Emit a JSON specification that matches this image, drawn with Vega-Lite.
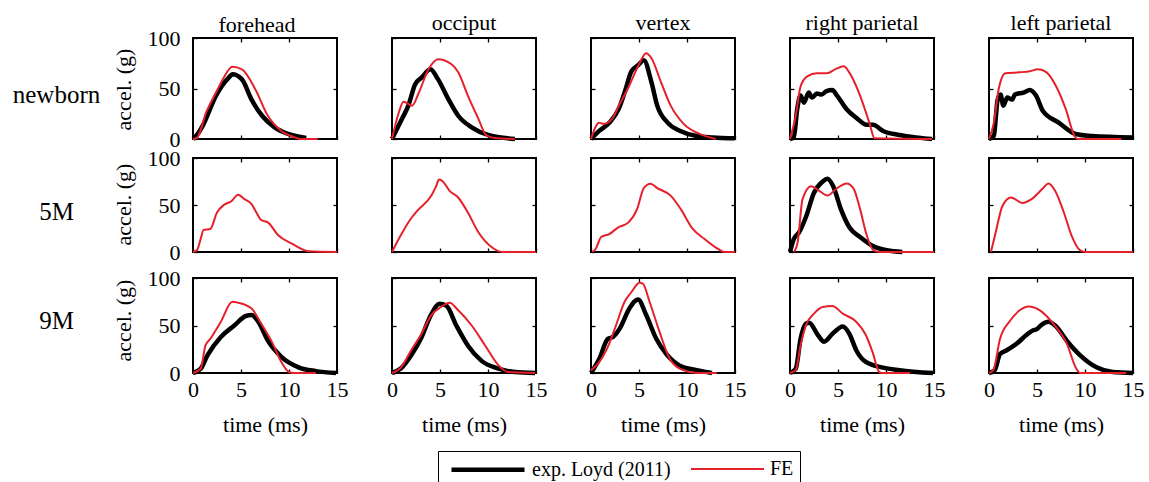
{
"$schema":"https://vega.github.io/schema/vega-lite/v6.json",
"background":"white",
"padding":{"left":11,"top":11,"right":0,"bottom":0},
"data":{"values":[
{"g":"nb","l":"fh","s":"exp. Loyd (2011)","t":0,"a":0},{"g":"nb","l":"fh","s":"exp. Loyd (2011)","t":0.5,"a":5},{"g":"nb","l":"fh","s":"exp. Loyd (2011)","t":1,"a":13},{"g":"nb","l":"fh","s":"exp. Loyd (2011)","t":2.4,"a":43},{"g":"nb","l":"fh","s":"exp. Loyd (2011)","t":3.75,"a":61},{"g":"nb","l":"fh","s":"exp. Loyd (2011)","t":4.1,"a":64},{"g":"nb","l":"fh","s":"exp. Loyd (2011)","t":5.1,"a":59},{"g":"nb","l":"fh","s":"exp. Loyd (2011)","t":6.1,"a":39},{"g":"nb","l":"fh","s":"exp. Loyd (2011)","t":7.2,"a":23},{"g":"nb","l":"fh","s":"exp. Loyd (2011)","t":8.5,"a":11.5},{"g":"nb","l":"fh","s":"exp. Loyd (2011)","t":9.9,"a":5},{"g":"nb","l":"fh","s":"exp. Loyd (2011)","t":11.8,"a":1},
{"g":"nb","l":"fh","s":"FE","t":0,"a":0},{"g":"nb","l":"fh","s":"FE","t":0.4,"a":1},{"g":"nb","l":"fh","s":"FE","t":1.4,"a":27},{"g":"nb","l":"fh","s":"FE","t":2.4,"a":46},{"g":"nb","l":"fh","s":"FE","t":3.1,"a":59},{"g":"nb","l":"fh","s":"FE","t":4.1,"a":71.5},{"g":"nb","l":"fh","s":"FE","t":5.1,"a":69},{"g":"nb","l":"fh","s":"FE","t":6.5,"a":49},{"g":"nb","l":"fh","s":"FE","t":7.8,"a":23},{"g":"nb","l":"fh","s":"FE","t":9.2,"a":8},{"g":"nb","l":"fh","s":"FE","t":10.6,"a":1.6},{"g":"nb","l":"fh","s":"FE","t":11.2,"a":0},{"g":"nb","l":"fh","s":"FE","t":13,"a":0},
{"g":"nb","l":"oc","s":"exp. Loyd (2011)","t":0,"a":0},{"g":"nb","l":"oc","s":"exp. Loyd (2011)","t":1.03,"a":19.7},{"g":"nb","l":"oc","s":"exp. Loyd (2011)","t":1.7,"a":33},{"g":"nb","l":"oc","s":"exp. Loyd (2011)","t":2.4,"a":54},{"g":"nb","l":"oc","s":"exp. Loyd (2011)","t":3.1,"a":61},{"g":"nb","l":"oc","s":"exp. Loyd (2011)","t":4,"a":69},{"g":"nb","l":"oc","s":"exp. Loyd (2011)","t":4.8,"a":59},{"g":"nb","l":"oc","s":"exp. Loyd (2011)","t":5.9,"a":39},{"g":"nb","l":"oc","s":"exp. Loyd (2011)","t":6.9,"a":23},{"g":"nb","l":"oc","s":"exp. Loyd (2011)","t":8.3,"a":11.5},{"g":"nb","l":"oc","s":"exp. Loyd (2011)","t":10,"a":4},{"g":"nb","l":"oc","s":"exp. Loyd (2011)","t":12.8,"a":0},
{"g":"nb","l":"oc","s":"FE","t":0,"a":0},{"g":"nb","l":"oc","s":"FE","t":0.7,"a":26},{"g":"nb","l":"oc","s":"FE","t":1.2,"a":37},{"g":"nb","l":"oc","s":"FE","t":2.1,"a":33},{"g":"nb","l":"oc","s":"FE","t":2.8,"a":46},{"g":"nb","l":"oc","s":"FE","t":3.8,"a":69},{"g":"nb","l":"oc","s":"FE","t":4.8,"a":79},{"g":"nb","l":"oc","s":"FE","t":6.2,"a":74},{"g":"nb","l":"oc","s":"FE","t":6.9,"a":66},{"g":"nb","l":"oc","s":"FE","t":7.9,"a":43},{"g":"nb","l":"oc","s":"FE","t":9,"a":20},{"g":"nb","l":"oc","s":"FE","t":9.8,"a":4},{"g":"nb","l":"oc","s":"FE","t":10.7,"a":1},{"g":"nb","l":"oc","s":"FE","t":12.8,"a":0},
{"g":"nb","l":"vx","s":"exp. Loyd (2011)","t":0,"a":0},{"g":"nb","l":"vx","s":"exp. Loyd (2011)","t":0.85,"a":8},{"g":"nb","l":"vx","s":"exp. Loyd (2011)","t":1.9,"a":16},{"g":"nb","l":"vx","s":"exp. Loyd (2011)","t":2.9,"a":30},{"g":"nb","l":"vx","s":"exp. Loyd (2011)","t":3.6,"a":49},{"g":"nb","l":"vx","s":"exp. Loyd (2011)","t":4.2,"a":67},{"g":"nb","l":"vx","s":"exp. Loyd (2011)","t":4.9,"a":73},{"g":"nb","l":"vx","s":"exp. Loyd (2011)","t":5.5,"a":78},{"g":"nb","l":"vx","s":"exp. Loyd (2011)","t":6.3,"a":56},{"g":"nb","l":"vx","s":"exp. Loyd (2011)","t":6.9,"a":33},{"g":"nb","l":"vx","s":"exp. Loyd (2011)","t":8,"a":16},{"g":"nb","l":"vx","s":"exp. Loyd (2011)","t":9.3,"a":8},{"g":"nb","l":"vx","s":"exp. Loyd (2011)","t":11,"a":3},{"g":"nb","l":"vx","s":"exp. Loyd (2011)","t":12.7,"a":1.6},{"g":"nb","l":"vx","s":"exp. Loyd (2011)","t":15,"a":0.7},
{"g":"nb","l":"vx","s":"FE","t":0,"a":0},{"g":"nb","l":"vx","s":"FE","t":0.85,"a":16},{"g":"nb","l":"vx","s":"FE","t":1.35,"a":15},{"g":"nb","l":"vx","s":"FE","t":2.2,"a":20},{"g":"nb","l":"vx","s":"FE","t":2.9,"a":33},{"g":"nb","l":"vx","s":"FE","t":3.9,"a":51},{"g":"nb","l":"vx","s":"FE","t":4.9,"a":72},{"g":"nb","l":"vx","s":"FE","t":5.75,"a":85},{"g":"nb","l":"vx","s":"FE","t":6.3,"a":80},{"g":"nb","l":"vx","s":"FE","t":7.3,"a":56},{"g":"nb","l":"vx","s":"FE","t":8.3,"a":33},{"g":"nb","l":"vx","s":"FE","t":9.65,"a":15},{"g":"nb","l":"vx","s":"FE","t":11.3,"a":5},{"g":"nb","l":"vx","s":"FE","t":13,"a":0},
{"g":"nb","l":"rp","s":"exp. Loyd (2011)","t":0,"a":0},{"g":"nb","l":"rp","s":"exp. Loyd (2011)","t":0.4,"a":1.6},{"g":"nb","l":"rp","s":"exp. Loyd (2011)","t":0.75,"a":29.5},{"g":"nb","l":"rp","s":"exp. Loyd (2011)","t":1.1,"a":43},{"g":"nb","l":"rp","s":"exp. Loyd (2011)","t":1.45,"a":36},{"g":"nb","l":"rp","s":"exp. Loyd (2011)","t":1.95,"a":46},{"g":"nb","l":"rp","s":"exp. Loyd (2011)","t":2.3,"a":41},{"g":"nb","l":"rp","s":"exp. Loyd (2011)","t":2.8,"a":45},{"g":"nb","l":"rp","s":"exp. Loyd (2011)","t":3.3,"a":44},{"g":"nb","l":"rp","s":"exp. Loyd (2011)","t":3.8,"a":47.5},{"g":"nb","l":"rp","s":"exp. Loyd (2011)","t":4.4,"a":48.5},{"g":"nb","l":"rp","s":"exp. Loyd (2011)","t":4.9,"a":43},{"g":"nb","l":"rp","s":"exp. Loyd (2011)","t":5.9,"a":29.5},{"g":"nb","l":"rp","s":"exp. Loyd (2011)","t":6.9,"a":21},{"g":"nb","l":"rp","s":"exp. Loyd (2011)","t":8,"a":14},{"g":"nb","l":"rp","s":"exp. Loyd (2011)","t":8.65,"a":14},{"g":"nb","l":"rp","s":"exp. Loyd (2011)","t":9.7,"a":8},{"g":"nb","l":"rp","s":"exp. Loyd (2011)","t":11.4,"a":4},{"g":"nb","l":"rp","s":"exp. Loyd (2011)","t":13.1,"a":1.6},{"g":"nb","l":"rp","s":"exp. Loyd (2011)","t":14.8,"a":0},
{"g":"nb","l":"rp","s":"FE","t":0,"a":0},{"g":"nb","l":"rp","s":"FE","t":0.6,"a":23},{"g":"nb","l":"rp","s":"FE","t":1.1,"a":52},{"g":"nb","l":"rp","s":"FE","t":1.8,"a":62},{"g":"nb","l":"rp","s":"FE","t":2.8,"a":65},{"g":"nb","l":"rp","s":"FE","t":3.85,"a":65},{"g":"nb","l":"rp","s":"FE","t":4.7,"a":69},{"g":"nb","l":"rp","s":"FE","t":5.6,"a":72},{"g":"nb","l":"rp","s":"FE","t":6.1,"a":67},{"g":"nb","l":"rp","s":"FE","t":7.3,"a":43},{"g":"nb","l":"rp","s":"FE","t":8.3,"a":15},{"g":"nb","l":"rp","s":"FE","t":8.8,"a":0.7},{"g":"nb","l":"rp","s":"FE","t":14.8,"a":0},
{"g":"nb","l":"lp","s":"exp. Loyd (2011)","t":0,"a":0},{"g":"nb","l":"lp","s":"exp. Loyd (2011)","t":0.5,"a":3},{"g":"nb","l":"lp","s":"exp. Loyd (2011)","t":0.9,"a":39},{"g":"nb","l":"lp","s":"exp. Loyd (2011)","t":1.2,"a":44},{"g":"nb","l":"lp","s":"exp. Loyd (2011)","t":1.5,"a":33},{"g":"nb","l":"lp","s":"exp. Loyd (2011)","t":1.9,"a":41},{"g":"nb","l":"lp","s":"exp. Loyd (2011)","t":2.4,"a":39},{"g":"nb","l":"lp","s":"exp. Loyd (2011)","t":2.7,"a":44},{"g":"nb","l":"lp","s":"exp. Loyd (2011)","t":3.6,"a":46},{"g":"nb","l":"lp","s":"exp. Loyd (2011)","t":4.25,"a":48.5},{"g":"nb","l":"lp","s":"exp. Loyd (2011)","t":4.9,"a":43},{"g":"nb","l":"lp","s":"exp. Loyd (2011)","t":5.6,"a":28},{"g":"nb","l":"lp","s":"exp. Loyd (2011)","t":7.3,"a":16},{"g":"nb","l":"lp","s":"exp. Loyd (2011)","t":9,"a":5},{"g":"nb","l":"lp","s":"exp. Loyd (2011)","t":10.7,"a":3},{"g":"nb","l":"lp","s":"exp. Loyd (2011)","t":15,"a":1.6},
{"g":"nb","l":"lp","s":"FE","t":0,"a":0},{"g":"nb","l":"lp","s":"FE","t":0.5,"a":16},{"g":"nb","l":"lp","s":"FE","t":1,"a":49},{"g":"nb","l":"lp","s":"FE","t":1.7,"a":65},{"g":"nb","l":"lp","s":"FE","t":3.2,"a":66},{"g":"nb","l":"lp","s":"FE","t":4.25,"a":67},{"g":"nb","l":"lp","s":"FE","t":5.1,"a":69},{"g":"nb","l":"lp","s":"FE","t":6,"a":66},{"g":"nb","l":"lp","s":"FE","t":7,"a":52},{"g":"nb","l":"lp","s":"FE","t":8,"a":29.5},{"g":"nb","l":"lp","s":"FE","t":8.9,"a":3},{"g":"nb","l":"lp","s":"FE","t":9.2,"a":0},{"g":"nb","l":"lp","s":"FE","t":13.8,"a":0},
{"g":"m5","l":"fh","s":"FE","t":0,"a":0},{"g":"m5","l":"fh","s":"FE","t":0.4,"a":1.8},{"g":"m5","l":"fh","s":"FE","t":0.8,"a":14},{"g":"m5","l":"fh","s":"FE","t":1.1,"a":23.5},{"g":"m5","l":"fh","s":"FE","t":1.8,"a":24.5},{"g":"m5","l":"fh","s":"FE","t":2.5,"a":42},{"g":"m5","l":"fh","s":"FE","t":3.2,"a":50},{"g":"m5","l":"fh","s":"FE","t":4,"a":54},{"g":"m5","l":"fh","s":"FE","t":4.7,"a":61},{"g":"m5","l":"fh","s":"FE","t":5.4,"a":56},{"g":"m5","l":"fh","s":"FE","t":6.1,"a":51},{"g":"m5","l":"fh","s":"FE","t":6.6,"a":42},{"g":"m5","l":"fh","s":"FE","t":7.1,"a":34},{"g":"m5","l":"fh","s":"FE","t":7.8,"a":31.5},{"g":"m5","l":"fh","s":"FE","t":8.9,"a":17.5},{"g":"m5","l":"fh","s":"FE","t":10.3,"a":9},{"g":"m5","l":"fh","s":"FE","t":12.1,"a":0.7},{"g":"m5","l":"fh","s":"FE","t":15,"a":0},
{"g":"m5","l":"oc","s":"FE","t":0,"a":0},{"g":"m5","l":"oc","s":"FE","t":0.9,"a":17.5},{"g":"m5","l":"oc","s":"FE","t":1.8,"a":33},{"g":"m5","l":"oc","s":"FE","t":2.65,"a":44},{"g":"m5","l":"oc","s":"FE","t":4.1,"a":60},{"g":"m5","l":"oc","s":"FE","t":4.6,"a":70},{"g":"m5","l":"oc","s":"FE","t":4.9,"a":77},{"g":"m5","l":"oc","s":"FE","t":5.3,"a":75},{"g":"m5","l":"oc","s":"FE","t":6,"a":65},{"g":"m5","l":"oc","s":"FE","t":6.9,"a":58},{"g":"m5","l":"oc","s":"FE","t":7.9,"a":42},{"g":"m5","l":"oc","s":"FE","t":9,"a":21},{"g":"m5","l":"oc","s":"FE","t":10.4,"a":5},{"g":"m5","l":"oc","s":"FE","t":11.5,"a":0},{"g":"m5","l":"oc","s":"FE","t":15,"a":0},
{"g":"m5","l":"vx","s":"FE","t":0.15,"a":0},{"g":"m5","l":"vx","s":"FE","t":0.5,"a":3.5},{"g":"m5","l":"vx","s":"FE","t":1.06,"a":16},{"g":"m5","l":"vx","s":"FE","t":1.9,"a":19},{"g":"m5","l":"vx","s":"FE","t":2.8,"a":26},{"g":"m5","l":"vx","s":"FE","t":3.9,"a":31.5},{"g":"m5","l":"vx","s":"FE","t":4.8,"a":45.6},{"g":"m5","l":"vx","s":"FE","t":5.5,"a":68},{"g":"m5","l":"vx","s":"FE","t":6.2,"a":72.6},{"g":"m5","l":"vx","s":"FE","t":6.9,"a":68},{"g":"m5","l":"vx","s":"FE","t":8.3,"a":60},{"g":"m5","l":"vx","s":"FE","t":9.35,"a":45.6},{"g":"m5","l":"vx","s":"FE","t":10.6,"a":24.5},{"g":"m5","l":"vx","s":"FE","t":11.8,"a":14},{"g":"m5","l":"vx","s":"FE","t":13.2,"a":3.5},{"g":"m5","l":"vx","s":"FE","t":13.9,"a":0},{"g":"m5","l":"vx","s":"FE","t":15,"a":0},
{"g":"m5","l":"rp","s":"exp. Loyd (2011)","t":0,"a":0},{"g":"m5","l":"rp","s":"exp. Loyd (2011)","t":0.4,"a":14},{"g":"m5","l":"rp","s":"exp. Loyd (2011)","t":0.95,"a":21},{"g":"m5","l":"rp","s":"exp. Loyd (2011)","t":1.65,"a":37},{"g":"m5","l":"rp","s":"exp. Loyd (2011)","t":2.5,"a":63},{"g":"m5","l":"rp","s":"exp. Loyd (2011)","t":3.4,"a":75},{"g":"m5","l":"rp","s":"exp. Loyd (2011)","t":3.9,"a":78},{"g":"m5","l":"rp","s":"exp. Loyd (2011)","t":4.5,"a":70},{"g":"m5","l":"rp","s":"exp. Loyd (2011)","t":5.3,"a":45.6},{"g":"m5","l":"rp","s":"exp. Loyd (2011)","t":6.2,"a":26},{"g":"m5","l":"rp","s":"exp. Loyd (2011)","t":7.3,"a":16},{"g":"m5","l":"rp","s":"exp. Loyd (2011)","t":8.7,"a":6},{"g":"m5","l":"rp","s":"exp. Loyd (2011)","t":10.1,"a":1.8},{"g":"m5","l":"rp","s":"exp. Loyd (2011)","t":11.7,"a":0},
{"g":"m5","l":"rp","s":"FE","t":0.4,"a":0},{"g":"m5","l":"rp","s":"FE","t":0.8,"a":10.5},{"g":"m5","l":"rp","s":"FE","t":1.3,"a":56},{"g":"m5","l":"rp","s":"FE","t":2.2,"a":70},{"g":"m5","l":"rp","s":"FE","t":3.05,"a":65},{"g":"m5","l":"rp","s":"FE","t":3.9,"a":60},{"g":"m5","l":"rp","s":"FE","t":4.8,"a":67},{"g":"m5","l":"rp","s":"FE","t":5.9,"a":73},{"g":"m5","l":"rp","s":"FE","t":6.6,"a":68},{"g":"m5","l":"rp","s":"FE","t":7.3,"a":45.6},{"g":"m5","l":"rp","s":"FE","t":8,"a":17.5},{"g":"m5","l":"rp","s":"FE","t":8.7,"a":1.8},{"g":"m5","l":"rp","s":"FE","t":9.4,"a":0},{"g":"m5","l":"rp","s":"FE","t":15,"a":0},
{"g":"m5","l":"lp","s":"FE","t":0.2,"a":0},{"g":"m5","l":"lp","s":"FE","t":0.7,"a":21},{"g":"m5","l":"lp","s":"FE","t":1.4,"a":49},{"g":"m5","l":"lp","s":"FE","t":2.3,"a":58},{"g":"m5","l":"lp","s":"FE","t":3.5,"a":52},{"g":"m5","l":"lp","s":"FE","t":4.4,"a":56},{"g":"m5","l":"lp","s":"FE","t":5.65,"a":68},{"g":"m5","l":"lp","s":"FE","t":6.2,"a":73},{"g":"m5","l":"lp","s":"FE","t":6.9,"a":65},{"g":"m5","l":"lp","s":"FE","t":7.8,"a":42},{"g":"m5","l":"lp","s":"FE","t":8.6,"a":17.5},{"g":"m5","l":"lp","s":"FE","t":9.5,"a":1.8},{"g":"m5","l":"lp","s":"FE","t":10.1,"a":0},{"g":"m5","l":"lp","s":"FE","t":15,"a":0},
{"g":"m9","l":"fh","s":"exp. Loyd (2011)","t":0,"a":0},{"g":"m9","l":"fh","s":"exp. Loyd (2011)","t":0.8,"a":4.5},{"g":"m9","l":"fh","s":"exp. Loyd (2011)","t":1.5,"a":18.6},{"g":"m9","l":"fh","s":"exp. Loyd (2011)","t":2.9,"a":38},{"g":"m9","l":"fh","s":"exp. Loyd (2011)","t":4.3,"a":50},{"g":"m9","l":"fh","s":"exp. Loyd (2011)","t":5.5,"a":60},{"g":"m9","l":"fh","s":"exp. Loyd (2011)","t":6.1,"a":61},{"g":"m9","l":"fh","s":"exp. Loyd (2011)","t":6.8,"a":54},{"g":"m9","l":"fh","s":"exp. Loyd (2011)","t":7.8,"a":34},{"g":"m9","l":"fh","s":"exp. Loyd (2011)","t":9.2,"a":17},{"g":"m9","l":"fh","s":"exp. Loyd (2011)","t":11,"a":6},{"g":"m9","l":"fh","s":"exp. Loyd (2011)","t":12.8,"a":2},{"g":"m9","l":"fh","s":"exp. Loyd (2011)","t":14.9,"a":0},
{"g":"m9","l":"fh","s":"FE","t":0,"a":0},{"g":"m9","l":"fh","s":"FE","t":0.8,"a":4.5},{"g":"m9","l":"fh","s":"FE","t":1.3,"a":29},{"g":"m9","l":"fh","s":"FE","t":1.8,"a":36},{"g":"m9","l":"fh","s":"FE","t":2.9,"a":54},{"g":"m9","l":"fh","s":"FE","t":4.1,"a":75},{"g":"m9","l":"fh","s":"FE","t":4.7,"a":74},{"g":"m9","l":"fh","s":"FE","t":6.1,"a":68},{"g":"m9","l":"fh","s":"FE","t":7.1,"a":52},{"g":"m9","l":"fh","s":"FE","t":8.2,"a":33},{"g":"m9","l":"fh","s":"FE","t":9.2,"a":11.6},{"g":"m9","l":"fh","s":"FE","t":10,"a":1},{"g":"m9","l":"fh","s":"FE","t":10.5,"a":0},{"g":"m9","l":"fh","s":"FE","t":12.8,"a":0},
{"g":"m9","l":"oc","s":"exp. Loyd (2011)","t":0,"a":0},{"g":"m9","l":"oc","s":"exp. Loyd (2011)","t":0.95,"a":5},{"g":"m9","l":"oc","s":"exp. Loyd (2011)","t":2,"a":18.6},{"g":"m9","l":"oc","s":"exp. Loyd (2011)","t":3,"a":36},{"g":"m9","l":"oc","s":"exp. Loyd (2011)","t":4.1,"a":62},{"g":"m9","l":"oc","s":"exp. Loyd (2011)","t":4.95,"a":73},{"g":"m9","l":"oc","s":"exp. Loyd (2011)","t":5.65,"a":71},{"g":"m9","l":"oc","s":"exp. Loyd (2011)","t":6.7,"a":50},{"g":"m9","l":"oc","s":"exp. Loyd (2011)","t":7.9,"a":29},{"g":"m9","l":"oc","s":"exp. Loyd (2011)","t":9.3,"a":13},{"g":"m9","l":"oc","s":"exp. Loyd (2011)","t":11.1,"a":4.5},{"g":"m9","l":"oc","s":"exp. Loyd (2011)","t":12.8,"a":1},{"g":"m9","l":"oc","s":"exp. Loyd (2011)","t":14.9,"a":0},
{"g":"m9","l":"oc","s":"FE","t":0,"a":0},{"g":"m9","l":"oc","s":"FE","t":0.95,"a":6},{"g":"m9","l":"oc","s":"FE","t":2,"a":24},{"g":"m9","l":"oc","s":"FE","t":3,"a":40},{"g":"m9","l":"oc","s":"FE","t":4.1,"a":61},{"g":"m9","l":"oc","s":"FE","t":5.1,"a":69.5},{"g":"m9","l":"oc","s":"FE","t":6,"a":74},{"g":"m9","l":"oc","s":"FE","t":6.9,"a":66},{"g":"m9","l":"oc","s":"FE","t":8.3,"a":50},{"g":"m9","l":"oc","s":"FE","t":9.7,"a":29},{"g":"m9","l":"oc","s":"FE","t":11.1,"a":8},{"g":"m9","l":"oc","s":"FE","t":12.1,"a":1},{"g":"m9","l":"oc","s":"FE","t":14.9,"a":0},
{"g":"m9","l":"vx","s":"exp. Loyd (2011)","t":0,"a":0},{"g":"m9","l":"vx","s":"exp. Loyd (2011)","t":0.87,"a":15},{"g":"m9","l":"vx","s":"exp. Loyd (2011)","t":1.75,"a":36},{"g":"m9","l":"vx","s":"exp. Loyd (2011)","t":2.3,"a":38},{"g":"m9","l":"vx","s":"exp. Loyd (2011)","t":3,"a":47},{"g":"m9","l":"vx","s":"exp. Loyd (2011)","t":4,"a":68},{"g":"m9","l":"vx","s":"exp. Loyd (2011)","t":4.9,"a":77.5},{"g":"m9","l":"vx","s":"exp. Loyd (2011)","t":5.75,"a":61},{"g":"m9","l":"vx","s":"exp. Loyd (2011)","t":6.8,"a":36},{"g":"m9","l":"vx","s":"exp. Loyd (2011)","t":7.85,"a":20},{"g":"m9","l":"vx","s":"exp. Loyd (2011)","t":9.2,"a":8},{"g":"m9","l":"vx","s":"exp. Loyd (2011)","t":11,"a":3},{"g":"m9","l":"vx","s":"exp. Loyd (2011)","t":12.6,"a":0},
{"g":"m9","l":"vx","s":"FE","t":0,"a":3},{"g":"m9","l":"vx","s":"FE","t":0.87,"a":11.6},{"g":"m9","l":"vx","s":"FE","t":1.9,"a":31},{"g":"m9","l":"vx","s":"FE","t":2.6,"a":50},{"g":"m9","l":"vx","s":"FE","t":3.5,"a":75},{"g":"m9","l":"vx","s":"FE","t":4.2,"a":85},{"g":"m9","l":"vx","s":"FE","t":5.05,"a":95},{"g":"m9","l":"vx","s":"FE","t":5.4,"a":94},{"g":"m9","l":"vx","s":"FE","t":6.1,"a":75},{"g":"m9","l":"vx","s":"FE","t":7.15,"a":43},{"g":"m9","l":"vx","s":"FE","t":8.2,"a":15},{"g":"m9","l":"vx","s":"FE","t":9.6,"a":3},{"g":"m9","l":"vx","s":"FE","t":11,"a":0},{"g":"m9","l":"vx","s":"FE","t":13.1,"a":0},
{"g":"m9","l":"rp","s":"exp. Loyd (2011)","t":0,"a":0},{"g":"m9","l":"rp","s":"exp. Loyd (2011)","t":0.6,"a":4.5},{"g":"m9","l":"rp","s":"exp. Loyd (2011)","t":1.1,"a":36},{"g":"m9","l":"rp","s":"exp. Loyd (2011)","t":1.65,"a":52},{"g":"m9","l":"rp","s":"exp. Loyd (2011)","t":2,"a":53},{"g":"m9","l":"rp","s":"exp. Loyd (2011)","t":2.9,"a":40},{"g":"m9","l":"rp","s":"exp. Loyd (2011)","t":3.55,"a":33},{"g":"m9","l":"rp","s":"exp. Loyd (2011)","t":4.4,"a":41},{"g":"m9","l":"rp","s":"exp. Loyd (2011)","t":5.5,"a":49},{"g":"m9","l":"rp","s":"exp. Loyd (2011)","t":6.2,"a":41},{"g":"m9","l":"rp","s":"exp. Loyd (2011)","t":6.9,"a":24},{"g":"m9","l":"rp","s":"exp. Loyd (2011)","t":7.9,"a":11.6},{"g":"m9","l":"rp","s":"exp. Loyd (2011)","t":9.7,"a":5.6},{"g":"m9","l":"rp","s":"exp. Loyd (2011)","t":11.4,"a":3},{"g":"m9","l":"rp","s":"exp. Loyd (2011)","t":14.9,"a":0},
{"g":"m9","l":"rp","s":"FE","t":0,"a":0},{"g":"m9","l":"rp","s":"FE","t":0.6,"a":3},{"g":"m9","l":"rp","s":"FE","t":1.1,"a":29},{"g":"m9","l":"rp","s":"FE","t":1.65,"a":50},{"g":"m9","l":"rp","s":"FE","t":2.5,"a":62.5},{"g":"m9","l":"rp","s":"FE","t":3.4,"a":69.5},{"g":"m9","l":"rp","s":"FE","t":4.4,"a":70.5},{"g":"m9","l":"rp","s":"FE","t":5.5,"a":62.5},{"g":"m9","l":"rp","s":"FE","t":6.9,"a":54},{"g":"m9","l":"rp","s":"FE","t":7.9,"a":40},{"g":"m9","l":"rp","s":"FE","t":8.6,"a":22},{"g":"m9","l":"rp","s":"FE","t":9.3,"a":1},{"g":"m9","l":"rp","s":"FE","t":9.6,"a":0},{"g":"m9","l":"rp","s":"FE","t":12.5,"a":0},
{"g":"m9","l":"lp","s":"exp. Loyd (2011)","t":0,"a":0},{"g":"m9","l":"lp","s":"exp. Loyd (2011)","t":0.6,"a":3},{"g":"m9","l":"lp","s":"exp. Loyd (2011)","t":1.15,"a":20},{"g":"m9","l":"lp","s":"exp. Loyd (2011)","t":1.85,"a":24},{"g":"m9","l":"lp","s":"exp. Loyd (2011)","t":2.9,"a":31},{"g":"m9","l":"lp","s":"exp. Loyd (2011)","t":3.9,"a":40},{"g":"m9","l":"lp","s":"exp. Loyd (2011)","t":4.6,"a":45},{"g":"m9","l":"lp","s":"exp. Loyd (2011)","t":4.95,"a":46},{"g":"m9","l":"lp","s":"exp. Loyd (2011)","t":5.5,"a":51},{"g":"m9","l":"lp","s":"exp. Loyd (2011)","t":6.2,"a":54},{"g":"m9","l":"lp","s":"exp. Loyd (2011)","t":6.9,"a":50},{"g":"m9","l":"lp","s":"exp. Loyd (2011)","t":8.1,"a":34},{"g":"m9","l":"lp","s":"exp. Loyd (2011)","t":9.5,"a":18.6},{"g":"m9","l":"lp","s":"exp. Loyd (2011)","t":11.2,"a":6},{"g":"m9","l":"lp","s":"exp. Loyd (2011)","t":12.9,"a":1},{"g":"m9","l":"lp","s":"exp. Loyd (2011)","t":15,"a":0},
{"g":"m9","l":"lp","s":"FE","t":0,"a":0},{"g":"m9","l":"lp","s":"FE","t":0.45,"a":3},{"g":"m9","l":"lp","s":"FE","t":1.15,"a":36},{"g":"m9","l":"lp","s":"FE","t":2.2,"a":55},{"g":"m9","l":"lp","s":"FE","t":3.2,"a":66},{"g":"m9","l":"lp","s":"FE","t":4.1,"a":70},{"g":"m9","l":"lp","s":"FE","t":5.3,"a":66},{"g":"m9","l":"lp","s":"FE","t":6.7,"a":52},{"g":"m9","l":"lp","s":"FE","t":8.1,"a":31},{"g":"m9","l":"lp","s":"FE","t":9.1,"a":4.5},{"g":"m9","l":"lp","s":"FE","t":9.5,"a":0},{"g":"m9","l":"lp","s":"FE","t":14.3,"a":0}
]},
"config":{
"font":"Liberation Serif",
"view":{"stroke":"black","strokeWidth":2},
"axis":{"grid":false,"domain":false,"tickSize":-4,"tickColor":"black","tickWidth":1.3,"labelFont":"Liberation Serif","labelFontSize":22,"labelColor":"black","labelFlush":false,"labelOverlap":false,"titleFont":"Liberation Serif","titleFontSize":22,"titleFontWeight":"normal","titleColor":"black"},
"axisX":{"labelPadding":10,"labelAngle":0},
"axisY":{"labelPadding":17},
"title":{"font":"Liberation Serif","fontSize":22,"fontWeight":"normal","color":"black","baseline":"alphabetic","offset":2}
},
"spacing":2,
"vconcat":[
{"spacing":-5,"vconcat":[
{"bounds":"flush","spacing":55,"hconcat":[
{"width":144,"height":101,"title":{"text":"forehead","dx":-8,"offset":-10},"transform":[{"filter":"datum.g==='nb'&&datum.l==='fh'"}],"resolve":{"axis":{"x":"independent","y":"independent"}},"layer":[
{"transform":[{"filter":"datum.s!=='FE'"}],"mark":{"type":"line","interpolate":"monotone"},"encoding":{
"x":{"field":"t","type":"quantitative","scale":{"domain":[0,15]},"axis":{"values":[0,5,10,15],"labels":false,"title":null}},
"y":{"field":"a","type":"quantitative","scale":{"domain":[0,100]},"axis":{"values":[0,50,100],"title":"accel. (g)","titleX":-70,"titleY":51,"titleAngle":-90,"titleAlign":"center","titleBaseline":"middle"}},
"color":{"field":"s","type":"nominal","scale":{"domain":["exp. Loyd (2011)","FE"],"range":["#000000","#e6202b"]},"title":null,"legend":{"orient":"none","legendX":245,"legendY":413,"direction":"horizontal","strokeColor":"black","fillColor":"white","padding":6,"symbolType":"M-3.65,0H3.65","symbolSize":400,"symbolOffset":31.5,"labelOffset":31.5,"columnPadding":14,"labelFont":"Liberation Serif","labelFontSize":20,"labelColor":"black"}},
"strokeWidth":{"field":"s","type":"nominal","scale":{"type":"ordinal","domain":["exp. Loyd (2011)","FE"],"range":[4.5,2]},"title":null,"legend":{"orient":"none","legendX":245,"legendY":413,"direction":"horizontal","strokeColor":"black","fillColor":"white","padding":6,"symbolType":"M-3.65,0H3.65","symbolSize":400,"symbolOffset":31.5,"labelOffset":31.5,"columnPadding":14,"labelFont":"Liberation Serif","labelFontSize":20,"labelColor":"black"}}}},
{"transform":[{"filter":"datum.s==='FE'"}],"mark":{"type":"line","interpolate":"monotone"},"encoding":{
"x":{"field":"t","type":"quantitative","scale":{"domain":[0,15]},"axis":{"orient":"top","values":[5,10],"labels":false,"title":null}},
"y":{"field":"a","type":"quantitative","scale":{"domain":[0,100]},"axis":{"orient":"right","values":[50],"labels":false,"title":"newborn","titleX":-281,"titleY":64,"titleAngle":0,"titleAlign":"center","titleBaseline":"alphabetic","titleFontSize":25}},
"color":{"field":"s","type":"nominal","scale":{"domain":["exp. Loyd (2011)","FE"],"range":["#000000","#e6202b"]},"title":null},
"strokeWidth":{"field":"s","type":"nominal","scale":{"type":"ordinal","domain":["exp. Loyd (2011)","FE"],"range":[4.5,2]},"title":null}}}]},
{"width":144,"height":101,"title":"occiput","transform":[{"filter":"datum.g==='nb'&&datum.l==='oc'"}],"resolve":{"axis":{"x":"independent","y":"independent"}},"layer":[
{"transform":[{"filter":"datum.s!=='FE'"}],"mark":{"type":"line","interpolate":"monotone"},"encoding":{
"x":{"field":"t","type":"quantitative","scale":{"domain":[0,15]},"axis":{"values":[0,5,10,15],"labels":false,"title":null}},
"y":{"field":"a","type":"quantitative","scale":{"domain":[0,100]},"axis":{"values":[0,50,100],"labels":false,"title":null}},
"color":{"field":"s","type":"nominal","scale":{"domain":["exp. Loyd (2011)","FE"],"range":["#000000","#e6202b"]},"title":null},
"strokeWidth":{"field":"s","type":"nominal","scale":{"type":"ordinal","domain":["exp. Loyd (2011)","FE"],"range":[4.5,2]},"title":null}}},
{"transform":[{"filter":"datum.s==='FE'"}],"mark":{"type":"line","interpolate":"monotone"},"encoding":{
"x":{"field":"t","type":"quantitative","scale":{"domain":[0,15]},"axis":{"orient":"top","values":[5,10],"labels":false,"title":null}},
"y":{"field":"a","type":"quantitative","scale":{"domain":[0,100]},"axis":{"orient":"right","values":[50],"labels":false,"title":null}},
"color":{"field":"s","type":"nominal","scale":{"domain":["exp. Loyd (2011)","FE"],"range":["#000000","#e6202b"]},"title":null},
"strokeWidth":{"field":"s","type":"nominal","scale":{"type":"ordinal","domain":["exp. Loyd (2011)","FE"],"range":[4.5,2]},"title":null}}}]},
{"width":144,"height":101,"title":"vertex","transform":[{"filter":"datum.g==='nb'&&datum.l==='vx'"}],"resolve":{"axis":{"x":"independent","y":"independent"}},"layer":[
{"transform":[{"filter":"datum.s!=='FE'"}],"mark":{"type":"line","interpolate":"monotone"},"encoding":{
"x":{"field":"t","type":"quantitative","scale":{"domain":[0,15]},"axis":{"values":[0,5,10,15],"labels":false,"title":null}},
"y":{"field":"a","type":"quantitative","scale":{"domain":[0,100]},"axis":{"values":[0,50,100],"labels":false,"title":null}},
"color":{"field":"s","type":"nominal","scale":{"domain":["exp. Loyd (2011)","FE"],"range":["#000000","#e6202b"]},"title":null},
"strokeWidth":{"field":"s","type":"nominal","scale":{"type":"ordinal","domain":["exp. Loyd (2011)","FE"],"range":[4.5,2]},"title":null}}},
{"transform":[{"filter":"datum.s==='FE'"}],"mark":{"type":"line","interpolate":"monotone"},"encoding":{
"x":{"field":"t","type":"quantitative","scale":{"domain":[0,15]},"axis":{"orient":"top","values":[5,10],"labels":false,"title":null}},
"y":{"field":"a","type":"quantitative","scale":{"domain":[0,100]},"axis":{"orient":"right","values":[50],"labels":false,"title":null}},
"color":{"field":"s","type":"nominal","scale":{"domain":["exp. Loyd (2011)","FE"],"range":["#000000","#e6202b"]},"title":null},
"strokeWidth":{"field":"s","type":"nominal","scale":{"type":"ordinal","domain":["exp. Loyd (2011)","FE"],"range":[4.5,2]},"title":null}}}]},
{"width":144,"height":101,"title":"right parietal","transform":[{"filter":"datum.g==='nb'&&datum.l==='rp'"}],"resolve":{"axis":{"x":"independent","y":"independent"}},"layer":[
{"transform":[{"filter":"datum.s!=='FE'"}],"mark":{"type":"line","interpolate":"monotone"},"encoding":{
"x":{"field":"t","type":"quantitative","scale":{"domain":[0,15]},"axis":{"values":[0,5,10,15],"labels":false,"title":null}},
"y":{"field":"a","type":"quantitative","scale":{"domain":[0,100]},"axis":{"values":[0,50,100],"labels":false,"title":null}},
"color":{"field":"s","type":"nominal","scale":{"domain":["exp. Loyd (2011)","FE"],"range":["#000000","#e6202b"]},"title":null},
"strokeWidth":{"field":"s","type":"nominal","scale":{"type":"ordinal","domain":["exp. Loyd (2011)","FE"],"range":[4.5,2]},"title":null}}},
{"transform":[{"filter":"datum.s==='FE'"}],"mark":{"type":"line","interpolate":"monotone"},"encoding":{
"x":{"field":"t","type":"quantitative","scale":{"domain":[0,15]},"axis":{"orient":"top","values":[5,10],"labels":false,"title":null}},
"y":{"field":"a","type":"quantitative","scale":{"domain":[0,100]},"axis":{"orient":"right","values":[50],"labels":false,"title":null}},
"color":{"field":"s","type":"nominal","scale":{"domain":["exp. Loyd (2011)","FE"],"range":["#000000","#e6202b"]},"title":null},
"strokeWidth":{"field":"s","type":"nominal","scale":{"type":"ordinal","domain":["exp. Loyd (2011)","FE"],"range":[4.5,2]},"title":null}}}]},
{"width":144,"height":101,"title":"left parietal","transform":[{"filter":"datum.g==='nb'&&datum.l==='lp'"}],"resolve":{"axis":{"x":"independent","y":"independent"}},"layer":[
{"transform":[{"filter":"datum.s!=='FE'"}],"mark":{"type":"line","interpolate":"monotone"},"encoding":{
"x":{"field":"t","type":"quantitative","scale":{"domain":[0,15]},"axis":{"values":[0,5,10,15],"labels":false,"title":null}},
"y":{"field":"a","type":"quantitative","scale":{"domain":[0,100]},"axis":{"values":[0,50,100],"labels":false,"title":null}},
"color":{"field":"s","type":"nominal","scale":{"domain":["exp. Loyd (2011)","FE"],"range":["#000000","#e6202b"]},"title":null},
"strokeWidth":{"field":"s","type":"nominal","scale":{"type":"ordinal","domain":["exp. Loyd (2011)","FE"],"range":[4.5,2]},"title":null}}},
{"transform":[{"filter":"datum.s==='FE'"}],"mark":{"type":"line","interpolate":"monotone"},"encoding":{
"x":{"field":"t","type":"quantitative","scale":{"domain":[0,15]},"axis":{"orient":"top","values":[5,10],"labels":false,"title":null}},
"y":{"field":"a","type":"quantitative","scale":{"domain":[0,100]},"axis":{"orient":"right","values":[50],"labels":false,"title":null}},
"color":{"field":"s","type":"nominal","scale":{"domain":["exp. Loyd (2011)","FE"],"range":["#000000","#e6202b"]},"title":null},
"strokeWidth":{"field":"s","type":"nominal","scale":{"type":"ordinal","domain":["exp. Loyd (2011)","FE"],"range":[4.5,2]},"title":null}}}]}
]},
{"bounds":"flush","spacing":55,"hconcat":[
{"width":144,"height":94,"transform":[{"filter":"datum.g==='m5'&&datum.l==='fh'"}],"resolve":{"axis":{"x":"independent","y":"independent"}},"layer":[
{"transform":[{"filter":"datum.s!=='FE'"}],"mark":{"type":"line","interpolate":"monotone"},"encoding":{
"x":{"field":"t","type":"quantitative","scale":{"domain":[0,15]},"axis":{"values":[0,5,10,15],"labels":false,"title":null}},
"y":{"field":"a","type":"quantitative","scale":{"domain":[0,100]},"axis":{"values":[0,50,100],"title":"accel. (g)","titleX":-70,"titleY":46,"titleAngle":-90,"titleAlign":"center","titleBaseline":"middle"}},
"color":{"field":"s","type":"nominal","scale":{"domain":["exp. Loyd (2011)","FE"],"range":["#000000","#e6202b"]},"title":null},
"strokeWidth":{"field":"s","type":"nominal","scale":{"type":"ordinal","domain":["exp. Loyd (2011)","FE"],"range":[4.5,2]},"title":null}}},
{"transform":[{"filter":"datum.s==='FE'"}],"mark":{"type":"line","interpolate":"monotone"},"encoding":{
"x":{"field":"t","type":"quantitative","scale":{"domain":[0,15]},"axis":{"orient":"top","values":[5,10],"labels":false,"title":null}},
"y":{"field":"a","type":"quantitative","scale":{"domain":[0,100]},"axis":{"orient":"right","values":[50],"labels":false,"title":"5M","titleX":-281,"titleY":61,"titleAngle":0,"titleAlign":"center","titleBaseline":"alphabetic","titleFontSize":25}},
"color":{"field":"s","type":"nominal","scale":{"domain":["exp. Loyd (2011)","FE"],"range":["#000000","#e6202b"]},"title":null},
"strokeWidth":{"field":"s","type":"nominal","scale":{"type":"ordinal","domain":["exp. Loyd (2011)","FE"],"range":[4.5,2]},"title":null}}}]},
{"width":144,"height":94,"transform":[{"filter":"datum.g==='m5'&&datum.l==='oc'"}],"resolve":{"axis":{"x":"independent","y":"independent"}},"layer":[
{"transform":[{"filter":"datum.s!=='FE'"}],"mark":{"type":"line","interpolate":"monotone"},"encoding":{
"x":{"field":"t","type":"quantitative","scale":{"domain":[0,15]},"axis":{"values":[0,5,10,15],"labels":false,"title":null}},
"y":{"field":"a","type":"quantitative","scale":{"domain":[0,100]},"axis":{"values":[0,50,100],"labels":false,"title":null}},
"color":{"field":"s","type":"nominal","scale":{"domain":["exp. Loyd (2011)","FE"],"range":["#000000","#e6202b"]},"title":null},
"strokeWidth":{"field":"s","type":"nominal","scale":{"type":"ordinal","domain":["exp. Loyd (2011)","FE"],"range":[4.5,2]},"title":null}}},
{"transform":[{"filter":"datum.s==='FE'"}],"mark":{"type":"line","interpolate":"monotone"},"encoding":{
"x":{"field":"t","type":"quantitative","scale":{"domain":[0,15]},"axis":{"orient":"top","values":[5,10],"labels":false,"title":null}},
"y":{"field":"a","type":"quantitative","scale":{"domain":[0,100]},"axis":{"orient":"right","values":[50],"labels":false,"title":null}},
"color":{"field":"s","type":"nominal","scale":{"domain":["exp. Loyd (2011)","FE"],"range":["#000000","#e6202b"]},"title":null},
"strokeWidth":{"field":"s","type":"nominal","scale":{"type":"ordinal","domain":["exp. Loyd (2011)","FE"],"range":[4.5,2]},"title":null}}}]},
{"width":144,"height":94,"transform":[{"filter":"datum.g==='m5'&&datum.l==='vx'"}],"resolve":{"axis":{"x":"independent","y":"independent"}},"layer":[
{"transform":[{"filter":"datum.s!=='FE'"}],"mark":{"type":"line","interpolate":"monotone"},"encoding":{
"x":{"field":"t","type":"quantitative","scale":{"domain":[0,15]},"axis":{"values":[0,5,10,15],"labels":false,"title":null}},
"y":{"field":"a","type":"quantitative","scale":{"domain":[0,100]},"axis":{"values":[0,50,100],"labels":false,"title":null}},
"color":{"field":"s","type":"nominal","scale":{"domain":["exp. Loyd (2011)","FE"],"range":["#000000","#e6202b"]},"title":null},
"strokeWidth":{"field":"s","type":"nominal","scale":{"type":"ordinal","domain":["exp. Loyd (2011)","FE"],"range":[4.5,2]},"title":null}}},
{"transform":[{"filter":"datum.s==='FE'"}],"mark":{"type":"line","interpolate":"monotone"},"encoding":{
"x":{"field":"t","type":"quantitative","scale":{"domain":[0,15]},"axis":{"orient":"top","values":[5,10],"labels":false,"title":null}},
"y":{"field":"a","type":"quantitative","scale":{"domain":[0,100]},"axis":{"orient":"right","values":[50],"labels":false,"title":null}},
"color":{"field":"s","type":"nominal","scale":{"domain":["exp. Loyd (2011)","FE"],"range":["#000000","#e6202b"]},"title":null},
"strokeWidth":{"field":"s","type":"nominal","scale":{"type":"ordinal","domain":["exp. Loyd (2011)","FE"],"range":[4.5,2]},"title":null}}}]},
{"width":144,"height":94,"transform":[{"filter":"datum.g==='m5'&&datum.l==='rp'"}],"resolve":{"axis":{"x":"independent","y":"independent"}},"layer":[
{"transform":[{"filter":"datum.s!=='FE'"}],"mark":{"type":"line","interpolate":"monotone"},"encoding":{
"x":{"field":"t","type":"quantitative","scale":{"domain":[0,15]},"axis":{"values":[0,5,10,15],"labels":false,"title":null}},
"y":{"field":"a","type":"quantitative","scale":{"domain":[0,100]},"axis":{"values":[0,50,100],"labels":false,"title":null}},
"color":{"field":"s","type":"nominal","scale":{"domain":["exp. Loyd (2011)","FE"],"range":["#000000","#e6202b"]},"title":null},
"strokeWidth":{"field":"s","type":"nominal","scale":{"type":"ordinal","domain":["exp. Loyd (2011)","FE"],"range":[4.5,2]},"title":null}}},
{"transform":[{"filter":"datum.s==='FE'"}],"mark":{"type":"line","interpolate":"monotone"},"encoding":{
"x":{"field":"t","type":"quantitative","scale":{"domain":[0,15]},"axis":{"orient":"top","values":[5,10],"labels":false,"title":null}},
"y":{"field":"a","type":"quantitative","scale":{"domain":[0,100]},"axis":{"orient":"right","values":[50],"labels":false,"title":null}},
"color":{"field":"s","type":"nominal","scale":{"domain":["exp. Loyd (2011)","FE"],"range":["#000000","#e6202b"]},"title":null},
"strokeWidth":{"field":"s","type":"nominal","scale":{"type":"ordinal","domain":["exp. Loyd (2011)","FE"],"range":[4.5,2]},"title":null}}}]},
{"width":144,"height":94,"transform":[{"filter":"datum.g==='m5'&&datum.l==='lp'"}],"resolve":{"axis":{"x":"independent","y":"independent"}},"layer":[
{"transform":[{"filter":"datum.s!=='FE'"}],"mark":{"type":"line","interpolate":"monotone"},"encoding":{
"x":{"field":"t","type":"quantitative","scale":{"domain":[0,15]},"axis":{"values":[0,5,10,15],"labels":false,"title":null}},
"y":{"field":"a","type":"quantitative","scale":{"domain":[0,100]},"axis":{"values":[0,50,100],"labels":false,"title":null}},
"color":{"field":"s","type":"nominal","scale":{"domain":["exp. Loyd (2011)","FE"],"range":["#000000","#e6202b"]},"title":null},
"strokeWidth":{"field":"s","type":"nominal","scale":{"type":"ordinal","domain":["exp. Loyd (2011)","FE"],"range":[4.5,2]},"title":null}}},
{"transform":[{"filter":"datum.s==='FE'"}],"mark":{"type":"line","interpolate":"monotone"},"encoding":{
"x":{"field":"t","type":"quantitative","scale":{"domain":[0,15]},"axis":{"orient":"top","values":[5,10],"labels":false,"title":null}},
"y":{"field":"a","type":"quantitative","scale":{"domain":[0,100]},"axis":{"orient":"right","values":[50],"labels":false,"title":null}},
"color":{"field":"s","type":"nominal","scale":{"domain":["exp. Loyd (2011)","FE"],"range":["#000000","#e6202b"]},"title":null},
"strokeWidth":{"field":"s","type":"nominal","scale":{"type":"ordinal","domain":["exp. Loyd (2011)","FE"],"range":[4.5,2]},"title":null}}}]}
]}
]},
{"bounds":"flush","spacing":55,"hconcat":[
{"width":144,"height":95,"transform":[{"filter":"datum.g==='m9'&&datum.l==='fh'"}],"resolve":{"axis":{"x":"independent","y":"independent"}},"layer":[
{"transform":[{"filter":"datum.s!=='FE'"}],"mark":{"type":"line","interpolate":"monotone"},"encoding":{
"x":{"field":"t","type":"quantitative","scale":{"domain":[0,15]},"axis":{"values":[0,5,10,15],"title":"time (ms)","titleY":58,"titleBaseline":"alphabetic"}},
"y":{"field":"a","type":"quantitative","scale":{"domain":[0,100]},"axis":{"values":[0,50,100],"title":"accel. (g)","titleX":-70,"titleY":42,"titleAngle":-90,"titleAlign":"center","titleBaseline":"middle"}},
"color":{"field":"s","type":"nominal","scale":{"domain":["exp. Loyd (2011)","FE"],"range":["#000000","#e6202b"]},"title":null},
"strokeWidth":{"field":"s","type":"nominal","scale":{"type":"ordinal","domain":["exp. Loyd (2011)","FE"],"range":[4.5,2]},"title":null}}},
{"transform":[{"filter":"datum.s==='FE'"}],"mark":{"type":"line","interpolate":"monotone"},"encoding":{
"x":{"field":"t","type":"quantitative","scale":{"domain":[0,15]},"axis":{"orient":"top","values":[5,10],"labels":false,"title":null}},
"y":{"field":"a","type":"quantitative","scale":{"domain":[0,100]},"axis":{"orient":"right","values":[50],"labels":false,"title":"9M","titleX":-281,"titleY":50,"titleAngle":0,"titleAlign":"center","titleBaseline":"alphabetic","titleFontSize":25}},
"color":{"field":"s","type":"nominal","scale":{"domain":["exp. Loyd (2011)","FE"],"range":["#000000","#e6202b"]},"title":null},
"strokeWidth":{"field":"s","type":"nominal","scale":{"type":"ordinal","domain":["exp. Loyd (2011)","FE"],"range":[4.5,2]},"title":null}}}]},
{"width":144,"height":95,"transform":[{"filter":"datum.g==='m9'&&datum.l==='oc'"}],"resolve":{"axis":{"x":"independent","y":"independent"}},"layer":[
{"transform":[{"filter":"datum.s!=='FE'"}],"mark":{"type":"line","interpolate":"monotone"},"encoding":{
"x":{"field":"t","type":"quantitative","scale":{"domain":[0,15]},"axis":{"values":[0,5,10,15],"title":"time (ms)","titleY":58,"titleBaseline":"alphabetic"}},
"y":{"field":"a","type":"quantitative","scale":{"domain":[0,100]},"axis":{"values":[0,50,100],"labels":false,"title":null}},
"color":{"field":"s","type":"nominal","scale":{"domain":["exp. Loyd (2011)","FE"],"range":["#000000","#e6202b"]},"title":null},
"strokeWidth":{"field":"s","type":"nominal","scale":{"type":"ordinal","domain":["exp. Loyd (2011)","FE"],"range":[4.5,2]},"title":null}}},
{"transform":[{"filter":"datum.s==='FE'"}],"mark":{"type":"line","interpolate":"monotone"},"encoding":{
"x":{"field":"t","type":"quantitative","scale":{"domain":[0,15]},"axis":{"orient":"top","values":[5,10],"labels":false,"title":null}},
"y":{"field":"a","type":"quantitative","scale":{"domain":[0,100]},"axis":{"orient":"right","values":[50],"labels":false,"title":null}},
"color":{"field":"s","type":"nominal","scale":{"domain":["exp. Loyd (2011)","FE"],"range":["#000000","#e6202b"]},"title":null},
"strokeWidth":{"field":"s","type":"nominal","scale":{"type":"ordinal","domain":["exp. Loyd (2011)","FE"],"range":[4.5,2]},"title":null}}}]},
{"width":144,"height":95,"transform":[{"filter":"datum.g==='m9'&&datum.l==='vx'"}],"resolve":{"axis":{"x":"independent","y":"independent"}},"layer":[
{"transform":[{"filter":"datum.s!=='FE'"}],"mark":{"type":"line","interpolate":"monotone"},"encoding":{
"x":{"field":"t","type":"quantitative","scale":{"domain":[0,15]},"axis":{"values":[0,5,10,15],"title":"time (ms)","titleY":58,"titleBaseline":"alphabetic"}},
"y":{"field":"a","type":"quantitative","scale":{"domain":[0,100]},"axis":{"values":[0,50,100],"labels":false,"title":null}},
"color":{"field":"s","type":"nominal","scale":{"domain":["exp. Loyd (2011)","FE"],"range":["#000000","#e6202b"]},"title":null},
"strokeWidth":{"field":"s","type":"nominal","scale":{"type":"ordinal","domain":["exp. Loyd (2011)","FE"],"range":[4.5,2]},"title":null}}},
{"transform":[{"filter":"datum.s==='FE'"}],"mark":{"type":"line","interpolate":"monotone"},"encoding":{
"x":{"field":"t","type":"quantitative","scale":{"domain":[0,15]},"axis":{"orient":"top","values":[5,10],"labels":false,"title":null}},
"y":{"field":"a","type":"quantitative","scale":{"domain":[0,100]},"axis":{"orient":"right","values":[50],"labels":false,"title":null}},
"color":{"field":"s","type":"nominal","scale":{"domain":["exp. Loyd (2011)","FE"],"range":["#000000","#e6202b"]},"title":null},
"strokeWidth":{"field":"s","type":"nominal","scale":{"type":"ordinal","domain":["exp. Loyd (2011)","FE"],"range":[4.5,2]},"title":null}}}]},
{"width":144,"height":95,"transform":[{"filter":"datum.g==='m9'&&datum.l==='rp'"}],"resolve":{"axis":{"x":"independent","y":"independent"}},"layer":[
{"transform":[{"filter":"datum.s!=='FE'"}],"mark":{"type":"line","interpolate":"monotone"},"encoding":{
"x":{"field":"t","type":"quantitative","scale":{"domain":[0,15]},"axis":{"values":[0,5,10,15],"title":"time (ms)","titleY":58,"titleBaseline":"alphabetic"}},
"y":{"field":"a","type":"quantitative","scale":{"domain":[0,100]},"axis":{"values":[0,50,100],"labels":false,"title":null}},
"color":{"field":"s","type":"nominal","scale":{"domain":["exp. Loyd (2011)","FE"],"range":["#000000","#e6202b"]},"title":null},
"strokeWidth":{"field":"s","type":"nominal","scale":{"type":"ordinal","domain":["exp. Loyd (2011)","FE"],"range":[4.5,2]},"title":null}}},
{"transform":[{"filter":"datum.s==='FE'"}],"mark":{"type":"line","interpolate":"monotone"},"encoding":{
"x":{"field":"t","type":"quantitative","scale":{"domain":[0,15]},"axis":{"orient":"top","values":[5,10],"labels":false,"title":null}},
"y":{"field":"a","type":"quantitative","scale":{"domain":[0,100]},"axis":{"orient":"right","values":[50],"labels":false,"title":null}},
"color":{"field":"s","type":"nominal","scale":{"domain":["exp. Loyd (2011)","FE"],"range":["#000000","#e6202b"]},"title":null},
"strokeWidth":{"field":"s","type":"nominal","scale":{"type":"ordinal","domain":["exp. Loyd (2011)","FE"],"range":[4.5,2]},"title":null}}}]},
{"width":144,"height":95,"transform":[{"filter":"datum.g==='m9'&&datum.l==='lp'"}],"resolve":{"axis":{"x":"independent","y":"independent"}},"layer":[
{"transform":[{"filter":"datum.s!=='FE'"}],"mark":{"type":"line","interpolate":"monotone"},"encoding":{
"x":{"field":"t","type":"quantitative","scale":{"domain":[0,15]},"axis":{"values":[0,5,10,15],"title":"time (ms)","titleY":58,"titleBaseline":"alphabetic"}},
"y":{"field":"a","type":"quantitative","scale":{"domain":[0,100]},"axis":{"values":[0,50,100],"labels":false,"title":null}},
"color":{"field":"s","type":"nominal","scale":{"domain":["exp. Loyd (2011)","FE"],"range":["#000000","#e6202b"]},"title":null},
"strokeWidth":{"field":"s","type":"nominal","scale":{"type":"ordinal","domain":["exp. Loyd (2011)","FE"],"range":[4.5,2]},"title":null}}},
{"transform":[{"filter":"datum.s==='FE'"}],"mark":{"type":"line","interpolate":"monotone"},"encoding":{
"x":{"field":"t","type":"quantitative","scale":{"domain":[0,15]},"axis":{"orient":"top","values":[5,10],"labels":false,"title":null}},
"y":{"field":"a","type":"quantitative","scale":{"domain":[0,100]},"axis":{"orient":"right","values":[50],"labels":false,"title":null}},
"color":{"field":"s","type":"nominal","scale":{"domain":["exp. Loyd (2011)","FE"],"range":["#000000","#e6202b"]},"title":null},
"strokeWidth":{"field":"s","type":"nominal","scale":{"type":"ordinal","domain":["exp. Loyd (2011)","FE"],"range":[4.5,2]},"title":null}}}]}
]}
]
}
